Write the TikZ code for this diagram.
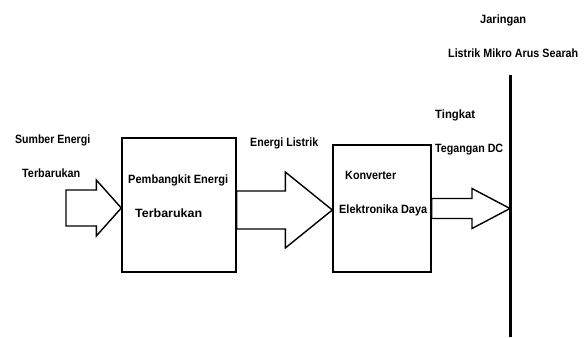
\documentclass[tikz,border=0pt]{standalone}
\usepackage{fontspec}
\newfontfamily\sempit[FakeStretch=0.8]{Liberation Sans}
\usetikzlibrary{calc,positioning}

\tikzset{
  blok/.style={draw, line width=1.4pt, inner sep=0pt},
  panah/.style={draw, line width=1.4pt, line join=miter},
  teks/.style={font=\sempit\bfseries\fontsize{12}{14}\selectfont, anchor=west, inner sep=0pt},
  bus/.style={draw, line width=3pt},
}

% block arrow: start, tip, shaft half width, head half width, head length
\newcommand{\panahblok}[5]{%
  \draw[panah] ($(#1)+(0,-#3)$) -- ($(#2)+(-#5,-#3)$) -- ($(#2)+(-#5,-#4)$)
    -- (#2) -- ($(#2)+(-#5,#4)$) -- ($(#2)+(-#5,#3)$) -- ($(#1)+(0,#3)$) -- cycle;
}
% text squeezed to a given width
\newcommand{\lebar}[2]{\resizebox{#1}{\height}{#2}}

\begin{document}
\begin{tikzpicture}[x=1pt,y=-1pt]
  \useasboundingbox (0,0) rectangle (588,337);

  % blocks
  \node[blok, minimum width=114pt, minimum height=134pt] (pembangkit) at (179,205) {};
  \node[blok, minimum width=98pt, minimum height=127pt] (konverter) at (382,208.5) {};

  % DC bus
  \coordinate (busatas) at (510,75);
  \coordinate (busbawah) at (510,337);
  \draw[bus] (busatas) -- (busbawah);

  % arrows
  \coordinate (sumber) at (66,208);
  \coordinate (u1) at (sumber -| pembangkit.west);
  \coordinate (a2) at ($(pembangkit.east)+(0,5)$);
  \coordinate (u2) at (a2 -| konverter.west);
  \coordinate (u3) at (konverter.east -| busatas);
  \panahblok{sumber}{u1}{18}{28}{25}
  \panahblok{a2}{u2}{19}{38}{47}
  \panahblok{konverter.east}{u3}{10}{20}{38}

  % labels
  \node[teks] (t1) at (15,140) {\lebar{75pt}{Sumber Energi}};
  \node[teks] (t2) at (22,173) {\lebar{58pt}{Terbarukan}};
  \node[teks] (t3) at (128,180) {\lebar{100pt}{Pembangkit Energi}};
  \node[teks] (t4) at (135,213) {\lebar{67pt}{Terbarukan}};
  \node[teks] (t5) at (250,143) {\lebar{68pt}{Energi Listrik}};
  \node[teks] (t6) at (345,175) {\lebar{51pt}{Konverter}};
  \node[teks] (t7) at (339,210) {\lebar{88pt}{Elektronika Daya}};
  \node[teks] (t8) at (480,20) {\lebar{46pt}{Jaringan}};
  \node[teks] (t9) at (448,53) {\lebar{130pt}{Listrik Mikro Arus Searah}};
  \node[teks] (t10) at (435,115) {\lebar{40pt}{Tingkat}};
  \node[teks] (t11) at (435,150) {\lebar{68pt}{Tegangan DC}};
\end{tikzpicture}
\end{document}
